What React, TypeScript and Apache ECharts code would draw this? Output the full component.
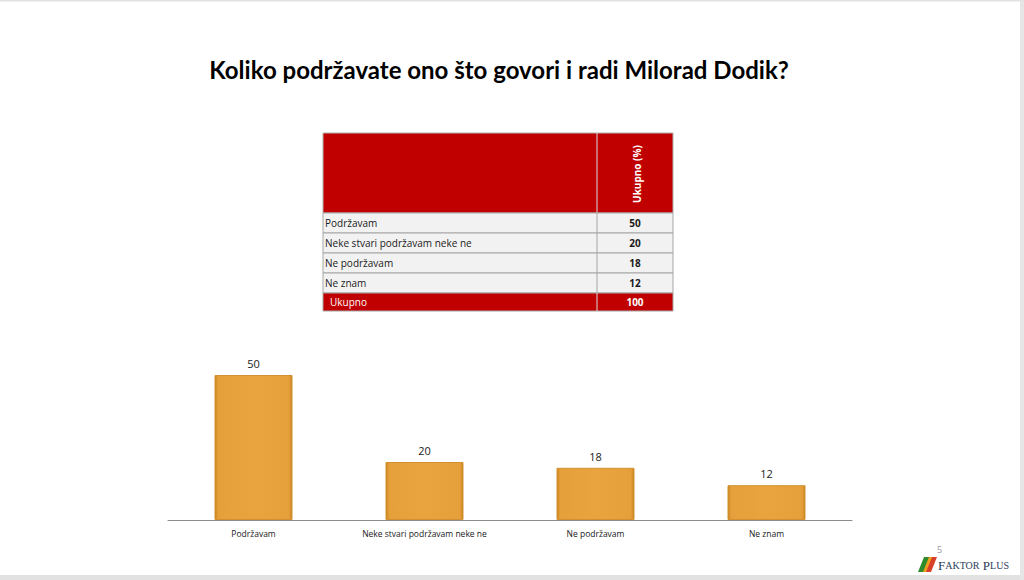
import React, { useEffect, useRef } from "react";
import * as echarts from "echarts";

const titleText = "Koliko podržavate ono što govori i radi Milorad Dodik?";
const categories = ["Podržavam", "Neke stvari podržavam neke ne", "Ne podržavam", "Ne znam"];
const values = [50, 20, 18, 12];
const totalLabel = "Ukupno";
const totalValue = 100;
const columnHeader = "Ukupno (%)";
const pageNumber = "5";

const RED = "#c00000";

function buildTable(): any[] {
  const left = 323;
  const right = 673;
  const divider = 597;
  const top = 133;
  const headerBottom = 213;
  const rowH = 20;
  const els: any[] = [];
  els.push({ type: "rect", shape: { x: left, y: top, width: right - left, height: headerBottom - top }, style: { fill: RED, stroke: "#b0b0b0", lineWidth: 1 } });
  els.push({ type: "line", shape: { x1: divider, y1: top, x2: divider, y2: headerBottom }, style: { stroke: "#d9d9d9", lineWidth: 1 } });
  els.push({
    type: "text",
    x: (divider + right) / 2 + 2,
    y: 174,
    rotation: Math.PI / 2,
    style: { text: columnHeader, fill: "#ffffff", font: "bold 10px 'Open Sans', sans-serif", align: "center", verticalAlign: "middle" },
  });
  categories.forEach((c, i) => {
    const y = headerBottom + i * rowH;
    els.push({ type: "rect", shape: { x: left, y, width: right - left, height: rowH }, style: { fill: "#f2f2f2", stroke: "#a6a6a6", lineWidth: 1 } });
    els.push({ type: "line", shape: { x1: divider, y1: y, x2: divider, y2: y + rowH }, style: { stroke: "#a6a6a6", lineWidth: 1 } });
    els.push({ type: "text", x: left + 2, y: y + rowH / 2, style: { text: c, fill: "#1a1a1a", font: "10px 'Open Sans', sans-serif", verticalAlign: "middle" } });
    els.push({ type: "text", x: (divider + right) / 2, y: y + rowH / 2, style: { text: String(values[i]), fill: "#1a1a1a", font: "bold 10px 'Open Sans', sans-serif", align: "center", verticalAlign: "middle" } });
  });
  const ty = headerBottom + categories.length * rowH;
  els.push({ type: "rect", shape: { x: left, y: ty, width: right - left, height: 18 }, style: { fill: RED, stroke: "#a6a6a6", lineWidth: 1 } });
  els.push({ type: "line", shape: { x1: divider, y1: ty, x2: divider, y2: ty + 18 }, style: { stroke: "#d9d9d9", lineWidth: 1 } });
  els.push({ type: "text", x: left + 7, y: ty + 9, style: { text: totalLabel, fill: "#ffffff", font: "10px 'Open Sans', sans-serif", verticalAlign: "middle" } });
  els.push({ type: "text", x: (divider + right) / 2, y: ty + 9, style: { text: String(totalValue), fill: "#ffffff", font: "bold 10px 'Open Sans', sans-serif", align: "center", verticalAlign: "middle" } });
  return els;
}

function buildLogo(): any[] {
  return [
    { type: "text", x: 937, y: 549, style: { text: pageNumber, fill: "#9a9aaa", font: "9px 'Open Sans', sans-serif", verticalAlign: "middle" } },
    { type: "polygon", shape: { points: [[918, 572], [924, 572], [930, 557], [924, 557]] }, style: { fill: "#2e8b2e" } },
    { type: "polygon", shape: { points: [[923, 572], [927, 572], [933, 557], [929, 557]] }, style: { fill: "#f0a020" } },
    { type: "polygon", shape: { points: [[926, 572], [931, 572], [937, 557], [932, 557]] }, style: { fill: "#d9402a" } },
    {
      type: "text",
      x: 938,
      y: 565,
      style: {
        text: "{b|F}{s|AKTOR} {b|P}{s|LUS}",
        verticalAlign: "middle",
        rich: {
          b: { fontFamily: "'Liberation Serif', serif", fontSize: 13, fill: "#2a3a5a" },
          s: { fontFamily: "'Liberation Serif', serif", fontSize: 10, fill: "#2a3a5a" },
        },
      },
    },
    { type: "rect", shape: { x: 0, y: 575, width: 1024, height: 5 }, style: { fill: "#e2e2e2" } },
    { type: "rect", shape: { x: 1020, y: 0, width: 4, height: 580 }, style: { fill: "#e6e6e6" } },
    { type: "rect", shape: { x: 0, y: 0, width: 1024, height: 1.5 }, style: { fill: "#e2e2e2" } },
  ];
}

export default function App() {
  const ref = useRef<HTMLDivElement>(null);
  useEffect(() => {
    if (!ref.current) return;
    const chart = echarts.init(ref.current, null, { renderer: "svg" });
    const barColor = new echarts.graphic.LinearGradient(0, 0, 1, 0, [
      { offset: 0, color: "#c98420" },
      { offset: 0.04, color: "#e6a03b" },
      { offset: 0.5, color: "#e9a43f" },
      { offset: 0.96, color: "#e6a03b" },
      { offset: 1, color: "#c98420" },
    ]);
    chart.setOption({
      animation: false,
      backgroundColor: "#ffffff",
      title: {
        text: titleText,
        left: 494,
        top: 52,
        textAlign: "center",
        textStyle: { fontFamily: "Lato, sans-serif", fontWeight: "bold", fontSize: 24, color: "#000000" },
      },
      grid: { left: 168, width: 684, top: 346, height: 174 },
      xAxis: {
        type: "category",
        data: categories,
        axisLine: { lineStyle: { color: "#8c8c8c", width: 1 } },
        axisTick: { show: false },
        axisLabel: { fontSize: 8.5, color: "#1a1a1a", fontFamily: "'Open Sans', sans-serif", margin: 9, interval: 0 },
      },
      yAxis: { type: "value", min: 0, max: 60, show: false, splitLine: { show: false } },
      series: [
        {
          type: "bar",
          data: values,
          barWidth: 78,
          itemStyle: { color: barColor, borderColor: "#d39030", borderWidth: 1 },
          label: { show: true, position: "top", distance: 6, fontSize: 11, color: "#1a1a1a", fontFamily: "'Open Sans', sans-serif" },
        },
      ],
      graphic: [...buildTable(), ...buildLogo()],
    });
    return () => chart.dispose();
  }, []);
  return <div ref={ref} style={{ position: "absolute", left: 0, top: 0, width: 1024, height: 580 }} />;
}
